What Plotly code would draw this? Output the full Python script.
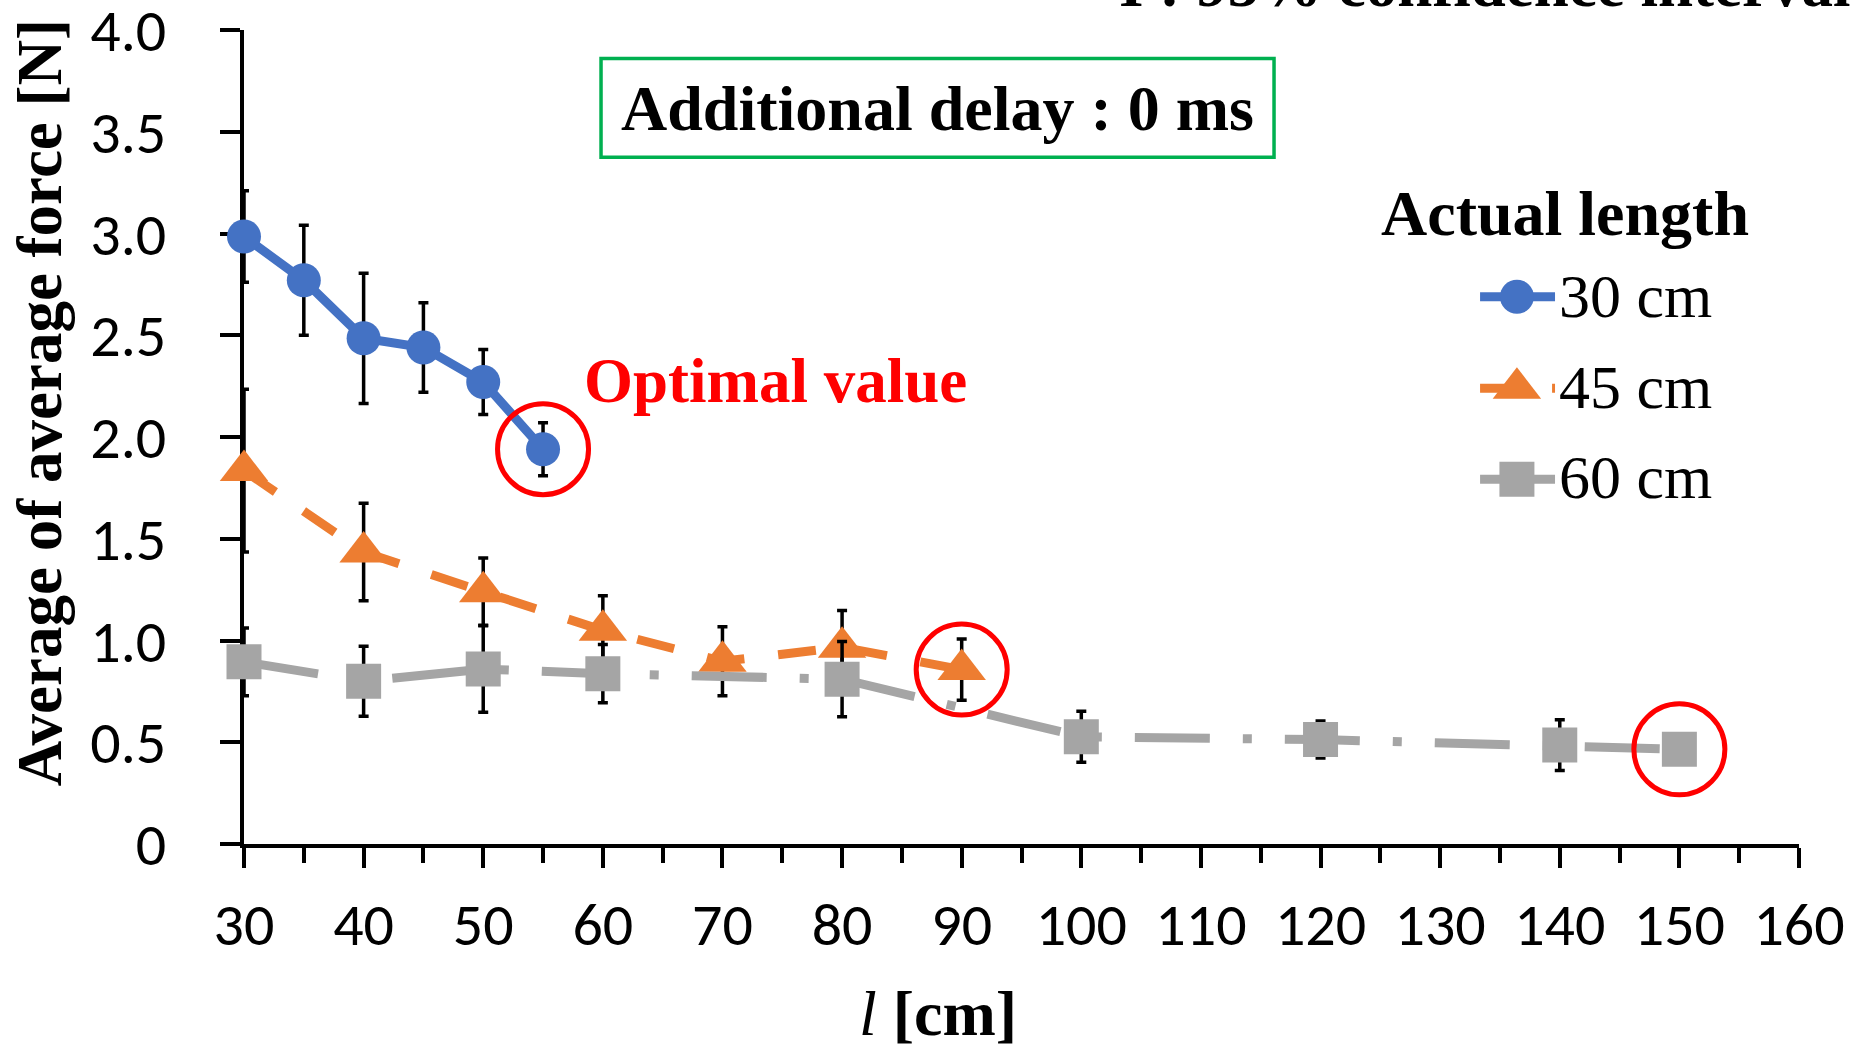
import plotly.graph_objects as go

# ---------------- data ----------------
series_names = ["30 cm", "45 cm", "60 cm"]

x_30 = [30, 35, 40, 45, 50, 55]
y_30 = [2.985, 2.77, 2.485, 2.44, 2.27, 1.94]
err_30 = [0.225, 0.27, 0.32, 0.22, 0.16, 0.13]

x_45 = [30, 40, 50, 60, 70, 80, 90]
y_45 = [1.835, 1.435, 1.24, 1.05, 0.898, 0.967, 0.857]
err_45 = [0.40, 0.24, 0.165, 0.17, 0.17, 0.18, 0.15]

x_60 = [30, 40, 50, 60, 80, 100, 120, 140, 150]
y_60 = [0.895, 0.80, 0.86, 0.837, 0.81, 0.527, 0.513, 0.486, 0.465]
err_60 = [0.167, 0.172, 0.213, 0.143, 0.185, 0.125, 0.091, 0.125, 0.05]

x_ticks = list(range(30, 161, 10))
y_ticks = [0, 0.5, 1.0, 1.5, 2.0, 2.5, 3.0, 3.5, 4.0]
y_ticktext = ["0", "0.5", "1.0", "1.5", "2.0", "2.5", "3.0", "3.5", "4.0"]

# ---------------- styles ----------------
SERIF = "'Times New Roman', 'Liberation Serif', serif"
SANS = "Calibri, Carlito, 'Liberation Sans', sans-serif"
BLUE, ORANGE, GRAY = "#4472C4", "#ED7D31", "#A5A5A5"
LW = 9
styles = [
    dict(color=BLUE, dash="solid", symbol="circle", size=34),
    dict(color=ORANGE, dash="38px,34px", symbol="triangle-up", size=42),
    dict(color=GRAY, dash="75px,33px,9px,33px", symbol="square", size=35),
]
xs = [x_30, x_45, x_60]
ys = [y_30, y_45, y_60]
errs = [err_30, err_45, err_60]

fig = go.Figure()

for name, x, y, e, st in zip(series_names, xs, ys, errs, styles):
    fig.add_trace(go.Scatter(
        x=x, y=y, name=name, mode="lines+markers", cliponaxis=False,
        line=dict(color=st["color"], width=LW, dash=st["dash"]),
        marker=dict(symbol=st["symbol"], size=st["size"], color=st["color"], line=dict(width=0)),
        error_y=dict(type="data", array=e, symmetric=True, color="black", thickness=3.5, width=5),
        showlegend=False,
    ))

# red circles around optimal (last) values
opt_x = [x_30[-1], x_45[-1], x_60[-1]]
opt_y = [y_30[-1], y_45[-1], y_60[-1]]
fig.add_trace(go.Scatter(
    x=opt_x, y=opt_y, mode="markers", cliponaxis=False, showlegend=False,
    marker=dict(symbol="circle-open", size=91, color="#FF0000", line=dict(width=5)),
))

# ---------------- custom legend (overlay axes in plot-fraction units) ----------------
leg_x0, leg_x1, leg_xm = 0.7949, 0.8431, 0.8186
leg_y = [0.6723, 0.5599, 0.4482]
leg_text_y = [0.6731, 0.5610, 0.4505]
for name, st, yy in zip(series_names, styles, leg_y):
    fig.add_trace(go.Scatter(
        x=[leg_x0, leg_x1], y=[yy, yy], xaxis="x2", yaxis="y2", mode="lines",
        line=dict(color=st["color"], width=LW, dash=st["dash"]),
        showlegend=False, hoverinfo="skip", cliponaxis=False,
    ))
    fig.add_trace(go.Scatter(
        x=[leg_xm], y=[yy], xaxis="x2", yaxis="y2", mode="markers",
        marker=dict(symbol=st["symbol"], size=st["size"], color=st["color"], line=dict(width=0)),
        showlegend=False, hoverinfo="skip", cliponaxis=False,
    ))

annotations = []
for name, yy in zip(series_names, leg_text_y):
    annotations.append(dict(
        text=name, xref="paper", yref="paper", x=0.8444, y=yy,
        xanchor="left", yanchor="middle", showarrow=False,
        font=dict(family=SERIF, size=62, color="black"),
    ))

annotations += [
    dict(text="<b>Actual length</b>", xref="paper", yref="paper", x=0.8495, y=0.7743,
         xanchor="center", yanchor="middle", showarrow=False,
         font=dict(family=SERIF, size=64, color="black")),
    dict(text="<b>Additional delay : 0 ms</b>", xref="paper", yref="paper", x=0.4457, y=0.9032,
         xanchor="center", yanchor="middle", showarrow=False,
         font=dict(family=SERIF, size=64, color="black")),
    dict(text="<b>Optimal value</b>", xref="paper", yref="paper", x=0.3415, y=0.5689,
         xanchor="center", yanchor="middle", showarrow=False,
         font=dict(family=SERIF, size=63, color="#FF0000")),
    dict(text="<b>I : 95% confidence interval</b>", xref="paper", yref="paper", x=0.5614, y=1.0555,
         xanchor="left", yanchor="middle", showarrow=False,
         font=dict(family=SERIF, size=63, color="black")),
    dict(text="<b>Average of average force [N]</b>", xref="paper", yref="paper", x=-0.1312, y=0.5427,
         xanchor="center", yanchor="middle", showarrow=False, textangle=-90,
         font=dict(family=SERIF, size=63, color="black")),
    dict(text="<i>l</i> <b>[cm]</b>", xref="paper", yref="paper", x=0.4466, y=-0.2080,
         xanchor="center", yanchor="middle", showarrow=False,
         font=dict(family=SERIF, size=64, color="black")),
]

shapes = [
    dict(type="rect", xref="paper", yref="paper", x0=0.2296, x1=0.6624, y0=0.8436, y1=0.9651,
         line=dict(color="#00B050", width=3.5), fillcolor="rgba(0,0,0,0)"),
]

fig.update_layout(
    width=1856, height=1045,
    margin=dict(l=244, r=57, t=30, b=201, autoexpand=False),
    paper_bgcolor="white", plot_bgcolor="white",
    showlegend=False,
    annotations=annotations, shapes=shapes,
    xaxis=dict(
        range=[30, 160], tickvals=x_ticks, ticks="outside", ticklen=20, tickwidth=3.5,
        tickcolor="black", showline=True, linewidth=3.5, linecolor="black",
        showgrid=False, zeroline=False, layer="below traces", automargin=False,
        tickfont=dict(family=SANS, size=60, color="black"), ticklabelstandoff=5,
        ticklabeloverflow="allow",
        minor=dict(ticks="outside", ticklen=15, tickwidth=3.5, tickcolor="black", dtick=5, tick0=30,
                   showgrid=False),
    ),
    yaxis=dict(
        range=[0, 4], tickvals=y_ticks, ticktext=y_ticktext, ticks="outside", ticklen=20,
        tickwidth=3.5, tickcolor="black", showline=True, linewidth=3.5, linecolor="black",
        showgrid=False, zeroline=False, layer="below traces", automargin=False,
        tickfont=dict(family=SANS, size=60, color="black"), ticklabelstandoff=42,
        ticklabeloverflow="allow",
    ),
    xaxis2=dict(overlaying="x", anchor="y2", range=[0, 1], visible=False, fixedrange=True),
    yaxis2=dict(overlaying="y", anchor="x2", range=[0, 1], visible=False, fixedrange=True),
)

fig.write_html(
    "out.html",
    config={"displayModeBar": False},
    post_script="document.body.style.margin='0';document.body.style.padding='0';"
                "document.body.style.overflow='hidden';",
)
